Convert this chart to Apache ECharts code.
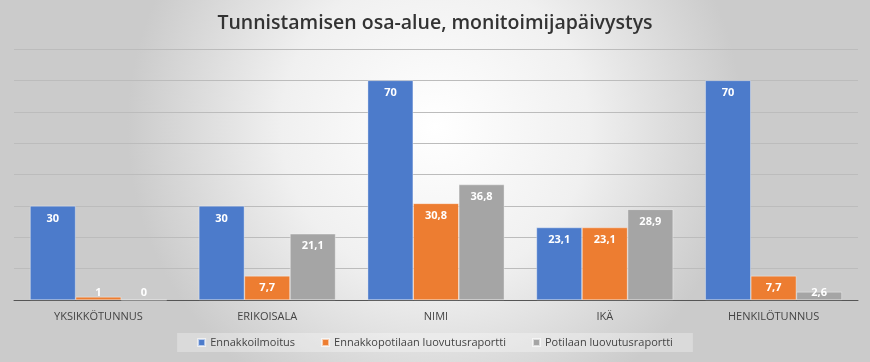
<!DOCTYPE html>
<html><head><meta charset="utf-8">
<script src="https://cdn.jsdelivr.net/npm/echarts@6/dist/echarts.min.js"></script>
<style>html,body{margin:0;padding:0;}#c{width:870px;height:362px;}</style>
</head><body><div id="c"></div>
<script>
const categories = ['YKSIKKÖTUNNUS', 'ERIKOISALA', 'NIMI', 'IKÄ', 'HENKILÖTUNNUS'];
const seriesNames = ['Ennakkoilmoitus', 'Ennakkopotilaan luovutusraportti', 'Potilaan luovutusraportti'];
const ennakkoilmoitus = [30, 30, 70, 23.1, 70];
const ennakkopotilaan = [1, 7.7, 30.8, 23.1, 7.7];
const potilaan = [0, 21.1, 36.8, 28.9, 2.6];
const colors = ['#4C7BCB', '#ED7D31', '#A5A5A5'];

const chart = echarts.init(document.getElementById('c'), null, {renderer: 'canvas'});
function mk(name, vals, color) {
  return {
    name: name, type: 'bar', barGap: '0%', barCategoryGap: '19%',
    itemStyle: {color: color, borderColor: 'rgba(255,255,255,0.6)', borderWidth: 0.6},
    data: vals.map(v => v < 5 ? {value: v, label: {position: 'insideBottom', distance: 2}} : v),
    label: {
      show: true, position: 'insideTop', distance: 7, color: '#fff',
      fontFamily: 'Open Sans', fontWeight: 'bold', fontSize: 11,
      formatter: p => String(p.value).replace('.', ',')
    }
  };
}
chart.setOption({
  animation: false,
  backgroundColor: {
    type: 'radial', x: 0.5, y: 0.35, r: 0.85,
    colorStops: [{offset: 0, color: '#ffffff'}, {offset: 0.5, color: '#f0f0f0'}, {offset: 1, color: '#cbcbcb'}]
  },
  title: {
    text: 'Tunnistamisen osa-alue, monitoimijapäivystys', left: 'center', top: 8,
    textStyle: {fontFamily: 'Open Sans', fontWeight: 600, fontSize: 19.5, color: '#333'}
  },
  legend: {
    bottom: 10, left: 'center', itemWidth: 7, itemHeight: 7, icon: 'rect', itemGap: 26,
    backgroundColor: 'rgba(255,255,255,0.3)', padding: [4, 20, 4, 20],
    textStyle: {fontFamily: 'Open Sans', fontSize: 11, color: '#444'},
    data: seriesNames
  },
  grid: {left: 14, right: 12, top: 49, bottom: 62, containLabel: false},
  xAxis: {
    type: 'category', data: categories,
    axisTick: {show: false},
    axisLine: {lineStyle: {color: '#555', width: 1}},
    axisLabel: {fontFamily: 'Open Sans', fontSize: 11, color: '#444', margin: 11}
  },
  yAxis: {
    type: 'value', min: 0, max: 80, interval: 10,
    axisLabel: {show: false},
    splitLine: {lineStyle: {color: '#bcbcbc', width: 1}}
  },
  series: [
    mk(seriesNames[0], ennakkoilmoitus, colors[0]),
    mk(seriesNames[1], ennakkopotilaan, colors[1]),
    mk(seriesNames[2], potilaan, colors[2])
  ]
});
</script></body></html>
